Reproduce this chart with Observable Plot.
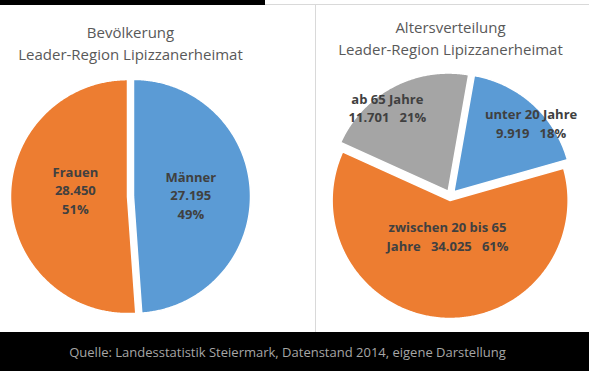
<!DOCTYPE html>
<html>
<head>
<meta charset="utf-8">
<script src="https://cdn.jsdelivr.net/npm/d3@7"></script>
<script src="https://cdn.jsdelivr.net/npm/@observablehq/plot@0.6"></script>
<style>
  html, body { margin: 0; padding: 0; background: #fff; }
  #wrap { position: relative; width: 589px; height: 371px; overflow: hidden; background: #fff; font-family: "Open Sans", sans-serif; }
  #wrap svg { position: absolute; top: 0; overflow: visible; }
  .topbar { position: absolute; left: 0; top: 0; width: 265px; height: 5px; background: #000; }
  .topline { position: absolute; left: 265px; top: 4px; width: 324px; height: 1px; background: #d9d9d9; }
  .divider { position: absolute; left: 315px; top: 5px; width: 1px; height: 327px; background: #d9d9d9; }
  .bottombar { position: absolute; left: 0; top: 332px; width: 589px; height: 39px; background: #000; }
  .caption { position: absolute; left: 0; top: 332px; width: 575px; height: 39px; line-height: 40px; text-align: center; color: #a6a6a6; font-size: 13px; font-family: "Open Sans", sans-serif; }
</style>
</head>
<body>
<div id="wrap">
  <div class="topbar"></div>
  <div class="topline"></div>
  <div class="divider"></div>
  <div class="bottombar"></div>
  <div class="caption" id="caption"></div>
</div>
<script>
// ---- data ----
const sexTitle = "Bevölkerung\nLeader-Region Lipizzanerheimat";
const sexCategories = ["Männer", "Frauen"];
const sexValues = [27195, 28450];

const ageTitle = "Altersverteilung\nLeader-Region Lipizzanerheimat";
const ageCategories = ["unter 20 Jahre", "zwischen 20 bis 65 Jahre", "ab 65 Jahre"];
const ageValues = [9919, 34025, 11701];

const captionText = "Quelle: Landesstatistik Steiermark, Datenstand 2014, eigene Darstellung";

// ---- styles / layout ----
const sexColors = ["#5B9BD5", "#ED7D31"];
const ageColors = ["#5B9BD5", "#ED7D31", "#A5A5A5"];

const fmt = d3.formatLocale({decimal: ",", thousands: ".", grouping: [3], currency: ["", "€"]}).format(",d");

const leftLayout = {left: 0, width: 316, height: 332, cx: 130, cy: 196, r: 117, rotate: 0, explode: 3,
  labelK: [0.49, 0.45], labelNudge: [0, 10], titleDy: 22, labelMode: "stack"};
const rightLayout = {left: 316, width: 273, height: 332, cx: 134, cy: 195, r: 118, rotate: 10, explode: 5,
  labelK: [0.88, 0.30, 0.88], labelNudge: [6, 0, -8], titleDy: 17, labelMode: "wrap"};

function labelLines(name, value, pct, mode) {
  if (mode === "stack") return [name, fmt(value), pct + "%"].join("\n");
  const sep = "\u00a0\u00a0\u00a0";
  const words = name.split(" ");
  const lines = [];
  let cur = "";
  for (const w of words) {
    if (cur && (cur + " " + w).length > 18) { lines.push(cur); cur = w; }
    else cur = cur ? cur + " " + w : w;
  }
  lines.push(cur);
  const tail = fmt(value) + " " + pct + "%";
  const last = lines[lines.length - 1];
  if ((last + " " + tail).length <= 18) lines[lines.length - 1] = last + sep + fmt(value) + sep + pct + "%";
  else lines.push(fmt(value) + sep + pct + "%");
  return lines.join("\n");
}

function pie(categories, values, colors, title, lay) {
  const total = d3.sum(values);
  const ex = lay.explode / lay.r;
  let a = lay.rotate * Math.PI / 180;
  const polys = [], labels = [];
  values.forEach((v, i) => {
    const a0 = a, a1 = a + v / total * 2 * Math.PI;
    a = a1;
    const mid = (a0 + a1) / 2;
    const ox = ex * Math.sin(mid), oy = ex * Math.cos(mid);
    const pts = [{x: ox, y: oy}];
    const n = Math.max(2, Math.ceil((a1 - a0) / (Math.PI / 360)));
    for (let j = 0; j <= n; j++) {
      const t = a0 + (a1 - a0) * j / n;
      pts.push({x: ox + Math.sin(t), y: oy + Math.cos(t)});
    }
    polys.push({pts, color: colors[i]});
    const la = mid + lay.labelNudge[i] * Math.PI / 180;
    const pct = Math.round(v / total * 100);
    labels.push({x: ox + lay.labelK[i] * Math.sin(la), y: oy + lay.labelK[i] * Math.cos(la),
      text: labelLines(categories[i], v, pct, lay.labelMode)});
  });
  const svg = Plot.plot({
    width: lay.width, height: lay.height, margin: 0,
    x: {type: "linear", domain: [-1, 1], range: [lay.cx - lay.r, lay.cx + lay.r], axis: null},
    y: {type: "linear", domain: [-1, 1], range: [lay.cy + lay.r, lay.cy - lay.r], axis: null},
    style: {background: "transparent", overflow: "visible"},
    marks: [
      ...polys.map(p => Plot.line(p.pts, {x: "x", y: "y", fill: p.color, stroke: "white", strokeWidth: 1.5, curve: "linear-closed"})),
      Plot.text(labels, {x: "x", y: "y", text: "text", fontFamily: "Open Sans", fontSize: 13, fontWeight: "bold", fill: "#404040", lineHeight: 1.42}),
      Plot.text([title], {x: () => 0, frameAnchor: "top", dy: lay.titleDy, text: d => d, fontFamily: "Open Sans", fontSize: 15, fill: "#595959", lineHeight: 1.47})
    ]
  });
  svg.style.left = lay.left + "px";
  return svg;
}

const wrap = document.getElementById("wrap");
wrap.insertBefore(pie(sexCategories, sexValues, sexColors, sexTitle, leftLayout), wrap.firstChild);
wrap.insertBefore(pie(ageCategories, ageValues, ageColors, ageTitle, rightLayout), wrap.firstChild);
document.getElementById("caption").textContent = captionText;
</script>
</body>
</html>
